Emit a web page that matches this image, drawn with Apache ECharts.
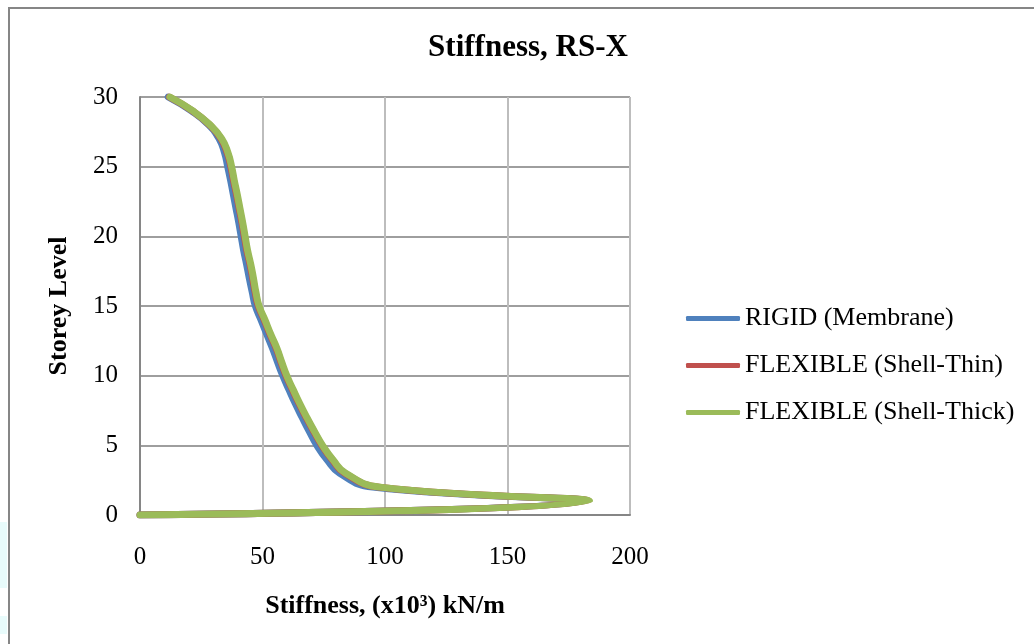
<!DOCTYPE html>
<html>
<head>
<meta charset="utf-8">
<script src="https://cdn.jsdelivr.net/npm/echarts@6/dist/echarts.min.js"></script>
<style>
  html, body { margin: 0; padding: 0; background: #fff; }
  #chart { width: 1034px; height: 644px; }
</style>
</head>
<body>
<div id="chart"></div>
<script>
// storey levels (y) and stiffness values (x10^3 kN/m)
const storey_levels = [0, 1, 2, 3, 4, 5, 6, 7, 8, 9, 10, 11, 12, 13, 14, 15,
    16, 17, 18, 19, 20, 21, 22, 23, 24, 25, 26, 27, 28, 29, 30];

const rigid_membrane = [0, 182.5, 95, 81.5, 76.2, 72.2, 69.1, 66.2, 63.4, 60.8, 58.3,
    56.1, 54, 51.7, 49.4, 47.1, 45.8, 44.6, 43.5, 42.3, 41.3,
    40.3, 39.2, 38.1, 37, 35.8, 34.5, 32.3, 28, 21, 11.5];

const flexible_shell_thin = [0, 183.2, 97.6, 83.6, 78.3, 74.2, 70.9, 67.8, 64.9, 62.2, 59.6,
    57.5, 55.5, 53, 50.7, 48.3, 47, 46, 44.9, 43.6, 42.6,
    41.6, 40.5, 39.4, 38.2, 37.1, 35.6, 33.1, 28.4, 21.4, 12];

const flexible_shell_thick = [0, 183.5, 98, 84, 78.6, 74.5, 71.2, 68.1, 65.2, 62.5, 59.9,
    57.8, 55.8, 53.3, 51, 48.6, 47.3, 46.3, 45.2, 43.9, 42.9,
    41.9, 40.8, 39.7, 38.5, 37.4, 35.9, 33.4, 28.6, 21.6, 12.2];

const series_names = ['RIGID (Membrane)', 'FLEXIBLE (Shell-Thin)', 'FLEXIBLE (Shell-Thick)'];
const series_colors = ['#4F81BD', '#C0504D', '#9BBB59'];

const x_ticks = {min: 0, max: 200, interval: 50};
const y_ticks = {min: 0, max: 30, interval: 5};

const font = '"Liberation Serif", "Times New Roman", serif';

function make_pairs(values) {
    return values.map((v, i) => [v, storey_levels[i]]);
}

let series = [rigid_membrane, flexible_shell_thin, flexible_shell_thick].map((vals, i) => {
    return {
        name: series_names[i], type: 'line', data: make_pairs(vals),
        showSymbol: false, smooth: 0.5, z: 2 + i,
        lineStyle: {color: series_colors[i], width: 7, cap: 'round', join: 'round'},
        itemStyle: {color: series_colors[i]},
        animation: false
    };
});

let option = {
    animation: false,
    backgroundColor: '#fff',
    title: {
        text: 'Stiffness, RS-X', left: 523, top: 27, textAlign: 'center',
        textStyle: {fontFamily: font, fontSize: 31, fontWeight: 'bold', color: '#000'}
    },
    grid: {left: 140, right: 404, top: 97, bottom: 129},
    legend: {
        orient: 'vertical', left: 686, top: 305, itemGap: 20, padding: 0,
        itemWidth: 54, itemHeight: 5, icon: 'roundRect',
        data: series_names,
        textStyle: {fontFamily: font, fontSize: 26, color: '#000', lineHeight: 27}
    },
    xAxis: {
        type: 'value', min: x_ticks.min, max: x_ticks.max, interval: x_ticks.interval,
        name: 'Stiffness, (x10³) kN/m', nameLocation: 'middle', nameGap: 78,
        nameTextStyle: {fontFamily: font, fontSize: 26, fontWeight: 'bold', color: '#000'},
        axisLine: {lineStyle: {color: '#868686', width: 2}},
        axisTick: {show: false},
        axisLabel: {fontFamily: font, fontSize: 25, color: '#000', margin: 30},
        splitLine: {lineStyle: {color: '#bdbdbd', width: 2}}
    },
    yAxis: {
        type: 'value', min: y_ticks.min, max: y_ticks.max, interval: y_ticks.interval,
        name: 'Storey Level', nameLocation: 'middle', nameGap: 68, nameRotate: 90,
        nameTextStyle: {fontFamily: font, fontSize: 26, fontWeight: 'bold', color: '#000'},
        axisLine: {show: true, lineStyle: {color: '#868686', width: 2}},
        axisTick: {show: false},
        axisLabel: {fontFamily: font, fontSize: 25, color: '#000', margin: 22},
        splitLine: {lineStyle: {color: '#9e9e9e', width: 2}}
    },
    graphic: [
        {
            type: 'rect', z: -1, silent: true,
            shape: {x: 9, y: 8, width: 1100, height: 700},
            style: {fill: null, stroke: '#868686', lineWidth: 2}
        },
        {
            type: 'rect', silent: true,
            shape: {x: 0, y: 522, width: 7, height: 66},
            style: {fill: '#e8fbfb'}
        },
        {
            type: 'rect', silent: true,
            shape: {x: 0, y: 616, width: 7, height: 18},
            style: {fill: '#e8fbfb'}
        }
    ],
    series: series
};

let my_chart = echarts.init(document.getElementById('chart'));
my_chart.setOption(option);
</script>
</body>
</html>
